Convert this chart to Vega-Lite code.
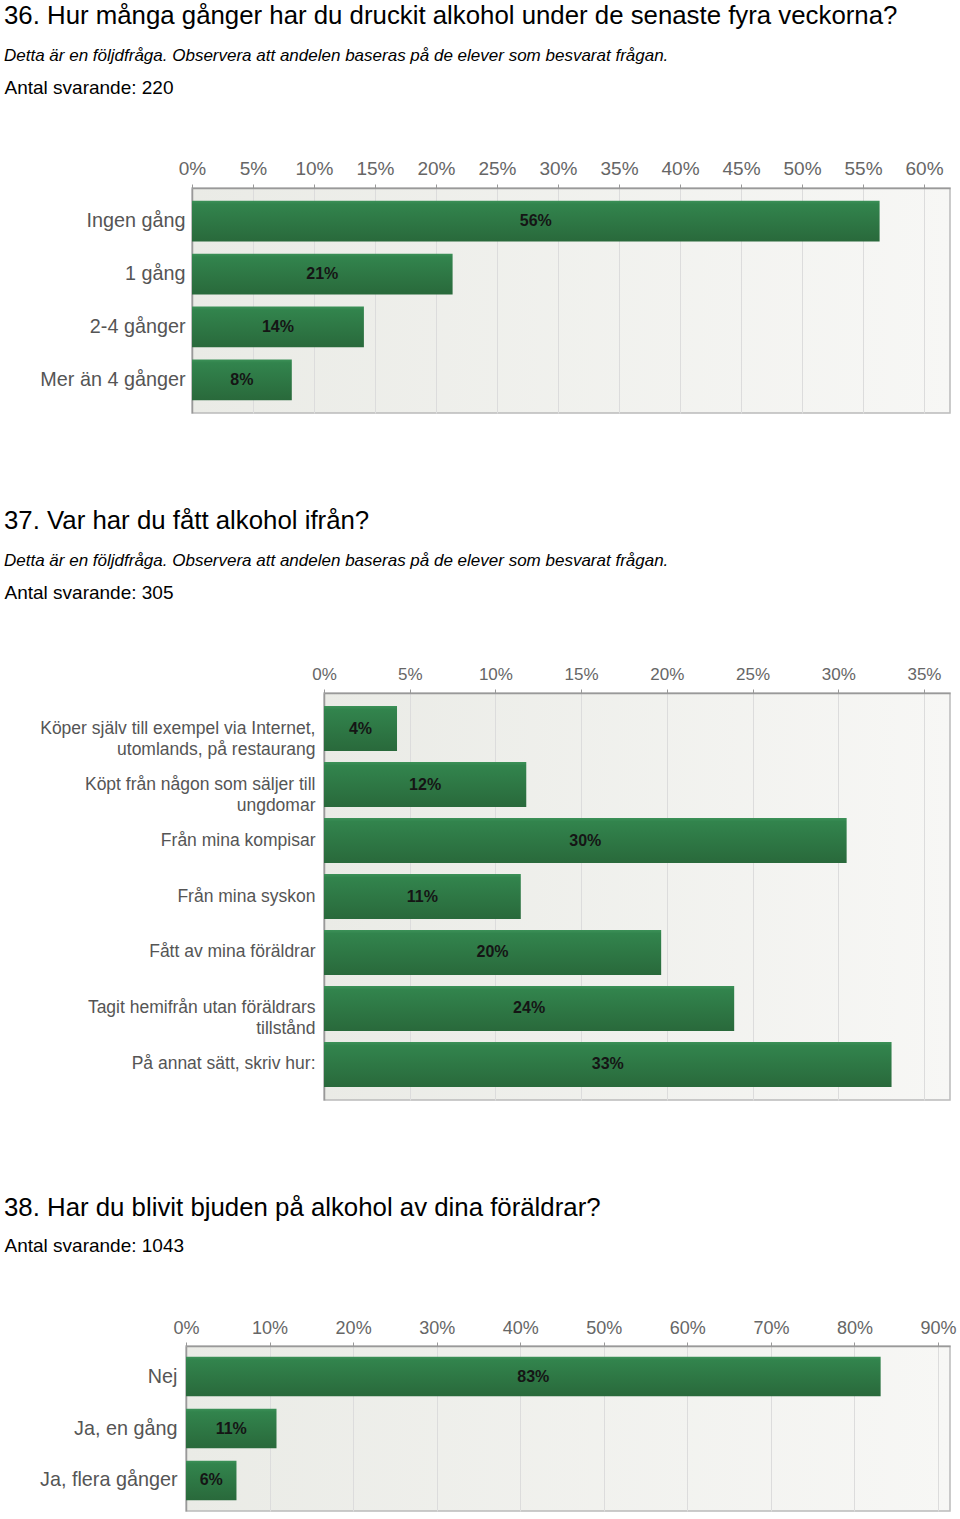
{
  "$schema": "https://vega.github.io/schema/vega-lite/v6.json",
  "padding": {"left": 2, "top": 2, "right": 0, "bottom": 0},
  "background": "white",
  "config": {
    "font": "Liberation Sans",
    "view": {
      "stroke": "#bbbbbb",
      "strokeWidth": 1.5,
      "fill": {"gradient": "linear", "x1": 0, "y1": 0, "x2": 1, "y2": 0,
        "stops": [{"offset": 0, "color": "#eaebe6"}, {"offset": 1, "color": "#f7f7f5"}]}
    },
    "title": {
      "anchor": "start", "frame": "group", "font": "Liberation Sans", "fontSize": 25.8,
      "fontWeight": "normal", "color": "#000000",
      "subtitleFont": "Liberation Sans", "subtitleFontSize": 17, "subtitleFontStyle": "italic",
      "subtitleColor": "#000000", "subtitlePadding": 18, "offset": 13
    },
    "axis": {
      "labelFont": "Liberation Sans", "titleFont": "Liberation Sans", "titleFontWeight": "normal",
      "titleColor": "#000000", "titleFontSize": 19, "domainColor": "#999999", "domainWidth": 1.5,
      "tickColor": "#999999", "gridColor": "#dcdcdc", "gridWidth": 1
    },
    "axisX": {
      "grid": true, "tickSize": 4, "labelColor": "#666666", "labelFlush": false, "labelOverlap": false,
      "titleAnchor": "start", "titleAlign": "left", "titleBaseline": "alphabetic", "labelBaseline": "bottom"
    },
    "axisY": {"grid": false, "ticks": false, "labelColor": "#555555", "labelLineHeight": 21, "labelLimit": 400}
  },
  "datasets": {
    "q36": [
      {"svar": "Ingen gång", "andel": 0.5636},
      {"svar": "1 gång", "andel": 0.2136},
      {"svar": "2-4 gånger", "andel": 0.1409},
      {"svar": "Mer än 4 gånger", "andel": 0.0818}
    ],
    "q37": [
      {"svar": "Köper själv till exempel via Internet,\nutomlands, på restaurang", "andel": 0.0426},
      {"svar": "Köpt från någon som säljer till\nungdomar", "andel": 0.1180},
      {"svar": "Från mina kompisar", "andel": 0.3049},
      {"svar": "Från mina syskon", "andel": 0.1148},
      {"svar": "Fått av mina föräldrar", "andel": 0.1967},
      {"svar": "Tagit hemifrån utan föräldrars\ntillstånd", "andel": 0.2393},
      {"svar": "På annat sätt, skriv hur:", "andel": 0.3311}
    ],
    "q38": [
      {"svar": "Nej", "andel": 0.8313},
      {"svar": "Ja, en gång", "andel": 0.1083},
      {"svar": "Ja, flera gånger", "andel": 0.0604}
    ]
  },
  "spacing": 93,
  "vconcat": [
    {
      "spacing": 0,
      "hconcat": [
        {"width": 1, "height": 1, "view": {"stroke": null, "fill": null}, "data": {"values": [{}]}, "mark": {"type": "text", "text": ""}, "encoding": {}},
        {
          "width": 758, "height": 225,
          "title": {"text": "36. Hur många gånger har du druckit alkohol under de senaste fyra veckorna?",
            "subtitle": "Detta är en följdfråga. Observera att andelen baseras på de elever som besvarat frågan.", "dx": -188},
          "data": {"name": "q36"},
          "resolve": {"scale": {"x": "independent"}},
          "layer": [
            {
              "mark": {"type": "bar", "color": {"gradient": "linear", "x1": 0, "y1": 0, "x2": 0, "y2": 1,
                "stops": [{"offset": 0, "color": "#3c9158"}, {"offset": 0.08, "color": "#32844d"}, {"offset": 1, "color": "#29693b"}]}},
              "encoding": {
                "y": {"field": "svar", "type": "nominal", "sort": null,
                  "scale": {"paddingInner": 0.23, "paddingOuter": 0.24},
                  "axis": {"title": null, "labelFontSize": 19.8, "labelPadding": 7}},
                "x": {"field": "andel", "type": "quantitative",
                  "scale": {"domain": [0, 0.6213], "nice": false},
                  "axis": {"orient": "top", "values": [0, 0.05, 0.1, 0.15, 0.2, 0.25, 0.3, 0.35, 0.4, 0.45, 0.5, 0.55, 0.6],
                    "format": ".0%", "labelFontSize": 19, "labelPadding": 6,
                    "title": "Antal svarande: 220", "titleX": -188, "titleY": -95}}
              }
            },
            {
              "mark": {"type": "text", "fontWeight": "bold", "fontSize": 16, "color": "#151515"},
              "encoding": {
                "y": {"field": "svar", "type": "nominal", "sort": null},
                "x": {"field": "andel", "type": "quantitative", "scale": {"domain": [0, 1.2426], "nice": false}, "axis": null},
                "text": {"field": "andel", "type": "quantitative", "format": ".0%"}
              }
            }
          ]
        }
      ]
    },
    {
      "spacing": 0,
      "hconcat": [
        {"width": 1, "height": 1, "view": {"stroke": null, "fill": null}, "data": {"values": [{}]}, "mark": {"type": "text", "text": ""}, "encoding": {}},
        {
          "width": 626, "height": 407,
          "title": {"text": "37. Var har du fått alkohol ifrån?",
            "subtitle": "Detta är en följdfråga. Observera att andelen baseras på de elever som besvarat frågan.", "dx": -320},
          "data": {"name": "q37"},
          "resolve": {"scale": {"x": "independent"}},
          "layer": [
            {
              "mark": {"type": "bar", "color": {"gradient": "linear", "x1": 0, "y1": 0, "x2": 0, "y2": 1,
                "stops": [{"offset": 0, "color": "#3c9158"}, {"offset": 0.08, "color": "#32844d"}, {"offset": 1, "color": "#29693b"}]}},
              "encoding": {
                "y": {"field": "svar", "type": "nominal", "sort": null,
                  "scale": {"paddingInner": 0.196, "paddingOuter": 0.232},
                  "axis": {"title": null, "labelFontSize": 17.5, "labelPadding": 9, "labelExpr": "split(datum.label, '\\n')"}},
                "x": {"field": "andel", "type": "quantitative",
                  "scale": {"domain": [0, 0.3652], "nice": false},
                  "axis": {"orient": "top", "values": [0, 0.05, 0.1, 0.15, 0.2, 0.25, 0.3, 0.35],
                    "format": ".0%", "labelFontSize": 17, "labelPadding": 6,
                    "title": "Antal svarande: 305", "titleX": -320, "titleY": -95}}
              }
            },
            {
              "mark": {"type": "text", "fontWeight": "bold", "fontSize": 16, "color": "#151515"},
              "encoding": {
                "y": {"field": "svar", "type": "nominal", "sort": null},
                "x": {"field": "andel", "type": "quantitative", "scale": {"domain": [0, 0.7304], "nice": false}, "axis": null},
                "text": {"field": "andel", "type": "quantitative", "format": ".0%"}
              }
            }
          ]
        }
      ]
    },
    {
      "spacing": 0,
      "hconcat": [
        {"width": 1, "height": 1, "view": {"stroke": null, "fill": null}, "data": {"values": [{}]}, "mark": {"type": "text", "text": ""}, "encoding": {}},
        {
          "width": 764, "height": 165,
          "title": {"text": "38. Har du blivit bjuden på alkohol av dina föräldrar?", "dx": -182, "offset": 14},
          "data": {"name": "q38"},
          "resolve": {"scale": {"x": "independent"}},
          "layer": [
            {
              "mark": {"type": "bar", "color": {"gradient": "linear", "x1": 0, "y1": 0, "x2": 0, "y2": 1,
                "stops": [{"offset": 0, "color": "#3c9158"}, {"offset": 0.08, "color": "#32844d"}, {"offset": 1, "color": "#29693b"}]}},
              "encoding": {
                "y": {"field": "svar", "type": "nominal", "sort": null,
                  "scale": {"paddingInner": 0.24, "paddingOuter": 0.207},
                  "axis": {"title": null, "labelFontSize": 19.8, "labelPadding": 9}},
                "x": {"field": "andel", "type": "quantitative",
                  "scale": {"domain": [0, 0.9143], "nice": false},
                  "axis": {"orient": "top", "values": [0, 0.1, 0.2, 0.3, 0.4, 0.5, 0.6, 0.7, 0.8, 0.9],
                    "format": ".0%", "labelFontSize": 18, "labelPadding": 5,
                    "title": "Antal svarande: 1043", "titleX": -182, "titleY": -95}}
              }
            },
            {
              "mark": {"type": "text", "fontWeight": "bold", "fontSize": 16, "color": "#151515"},
              "encoding": {
                "y": {"field": "svar", "type": "nominal", "sort": null},
                "x": {"field": "andel", "type": "quantitative", "scale": {"domain": [0, 1.8286], "nice": false}, "axis": null},
                "text": {"field": "andel", "type": "quantitative", "format": ".0%"}
              }
            }
          ]
        }
      ]
    }
  ]
}
